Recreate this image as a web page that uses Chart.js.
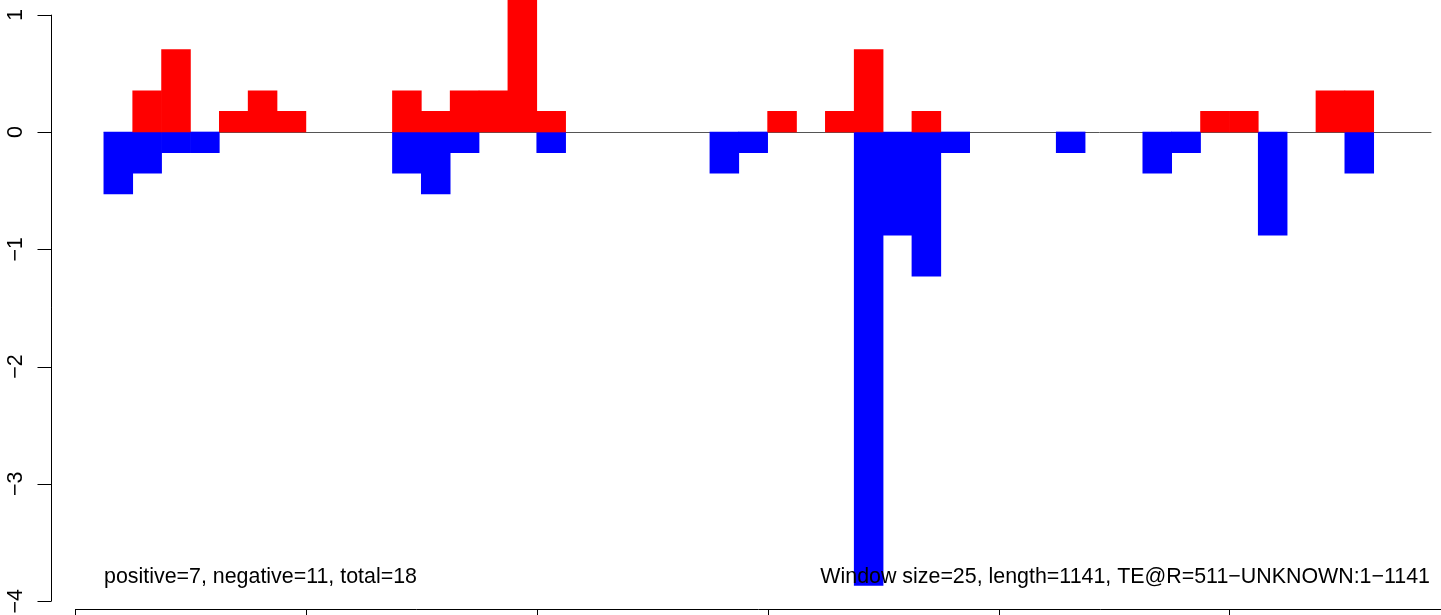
<!doctype html>
<html>
<head>
    <meta charset="utf-8">
    <title>TE windows</title>
    <script src="https://cdn.jsdelivr.net/npm/chart.js@4.4.1/dist/chart.umd.min.js"></script>
    <style>
    body { margin: 0; background: #ffffff; }
    canvas { display: block; }
    </style>
</head>
<body>
    <canvas id="canvasWindows" width="1441" height="615"></canvas>
    <script>
        // window centres (bp), window size 25
        var windowMids = [37.5, 62.5, 87.5, 112.5, 137.5, 162.5, 187.5, 212.5, 237.5, 262.5,
            287.5, 312.5, 337.5, 362.5, 387.5, 412.5, 437.5, 462.5, 487.5, 512.5,
            537.5, 562.5, 587.5, 612.5, 637.5, 662.5, 687.5, 712.5, 737.5, 762.5,
            787.5, 812.5, 837.5, 862.5, 887.5, 912.5, 937.5, 962.5, 987.5, 1012.5,
            1037.5, 1062.5, 1087.5, 1112.5, 1137.5, 1162.5];

        var positiveVals = [0, 0.351, 0.703, 0, 0.176, 0.351, 0.176, 0, 0, 0,
            0.351, 0.176, 0.351, 0.351, 1.23, 0.176, 0, 0, 0, 0,
            0, 0, 0, 0.176, 0, 0.176, 0.703, 0, 0.176, 0,
            0, 0, 0, 0, 0, 0, 0, 0, 0.176, 0.176,
            0, 0, 0.351, 0.351, 0, 0];

        var negativeVals = [-0.527, -0.351, -0.176, -0.176, 0, 0, 0, 0, 0, 0,
            -0.351, -0.527, -0.176, 0, 0, -0.176, 0, 0, 0, 0,
            0, -0.351, -0.176, 0, 0, 0, -3.866, -0.879, -1.23, -0.176,
            0, 0, 0, -0.176, 0, 0, -0.351, -0.176, 0, 0,
            -0.879, 0, 0, -0.351, 0, 0];

        var xTicks = [0, 200, 400, 600, 800, 1000, 1200];
        var yTicks = [1, 0, -1, -2, -3, -4];
        var yTickLabels = ["1", "0", "\u22121", "\u22122", "\u22123", "\u22124"];
        var zeroSpan = [25, 1175];

        var leftNote = "positive=7, negative=11, total=18";
        var rightNote = "Window size=25, length=1141, TE@R=511\u2212UNKNOWN:1\u22121141";

        // empty windows get no bar
        function toPoints(vals) {
            var pts = [];
            for (var i = 0; i < vals.length; i++) {
                pts.push({x: windowMids[i], y: vals[i] === 0 ? null : vals[i]});
            }
            return pts;
        }

        var rAxes = {
            id: 'rAxes',
            beforeDatasetsDraw: function(chart) {
                var ctx = chart.ctx, sx = chart.scales.x, sy = chart.scales.y;
                var y0 = Math.round(sy.getPixelForValue(0)) + 0.5;
                ctx.save();
                ctx.strokeStyle = '#555555';
                ctx.lineWidth = 1;
                ctx.beginPath();
                ctx.moveTo(sx.getPixelForValue(zeroSpan[0]), y0);
                ctx.lineTo(sx.getPixelForValue(zeroSpan[1]), y0);
                ctx.stroke();
                ctx.restore();
            },
            afterDraw: function(chart) {
                var ctx = chart.ctx, sx = chart.scales.x, sy = chart.scales.y;
                var axisX = 51.5, axisY = 609.5;
                ctx.save();
                ctx.strokeStyle = '#000000';
                ctx.fillStyle = '#000000';
                ctx.lineWidth = 1;

                // y axis
                ctx.beginPath();
                ctx.moveTo(axisX, sy.getPixelForValue(yTicks[0]));
                ctx.lineTo(axisX, sy.getPixelForValue(yTicks[yTicks.length - 1]));
                for (var i = 0; i < yTicks.length; i++) {
                    var py = Math.round(sy.getPixelForValue(yTicks[i])) + 0.5;
                    ctx.moveTo(axisX, py);
                    ctx.lineTo(axisX - 14, py);
                }
                ctx.stroke();

                ctx.font = '21.4px "Liberation Sans", Arial, sans-serif';
                ctx.textAlign = 'center';
                ctx.textBaseline = 'alphabetic';
                for (var j = 0; j < yTicks.length; j++) {
                    ctx.save();
                    ctx.translate(22, sy.getPixelForValue(yTicks[j]));
                    ctx.rotate(-Math.PI / 2);
                    ctx.fillText(yTickLabels[j], 0, 0);
                    ctx.restore();
                }

                // x axis (labels fall below the canvas)
                ctx.beginPath();
                ctx.moveTo(sx.getPixelForValue(xTicks[0]), axisY);
                ctx.lineTo(sx.getPixelForValue(xTicks[xTicks.length - 1]), axisY);
                for (var k = 0; k < xTicks.length; k++) {
                    var px = Math.round(sx.getPixelForValue(xTicks[k])) + 0.5;
                    ctx.moveTo(px, axisY);
                    ctx.lineTo(px, axisY + 14);
                }
                ctx.stroke();

                // notes
                ctx.textAlign = 'left';
                ctx.fillText(leftNote, 104, 583);
                ctx.textAlign = 'right';
                ctx.fillText(rightNote, 1430, 583);
                ctx.restore();
            }
        };

        var ctx = document.getElementById("canvasWindows").getContext("2d");
        window.myBar = new Chart(ctx, {
            type: 'bar',
            data: {
                datasets: [
                    {
                        label: "positive",
                        backgroundColor: "#ff0000",
                        borderWidth: 0,
                        grouped: false,
                        barPercentage: 1,
                        categoryPercentage: 1,
                        data: toPoints(positiveVals)
                    },
                    {
                        label: "negative",
                        backgroundColor: "#0000ff",
                        borderWidth: 0,
                        grouped: false,
                        barPercentage: 1,
                        categoryPercentage: 1,
                        data: toPoints(negativeVals)
                    }
                ]
            },
            options: {
                responsive: false,
                animation: false,
                layout: { padding: 0 },
                plugins: {
                    legend: { display: false },
                    tooltip: { enabled: false }
                },
                scales: {
                    x: {
                        type: 'linear',
                        display: false,
                        offset: false,
                        min: -64.97,
                        max: 1183.3,
                        afterBuildTicks: function(scale) {
                            scale.ticks = xTicks.map(function(v) { return {value: v}; });
                        }
                    },
                    y: {
                        display: false,
                        min: -4.1176,
                        max: 1.1253,
                        afterBuildTicks: function(scale) {
                            scale.ticks = yTicks.map(function(v) { return {value: v}; });
                        }
                    }
                }
            },
            plugins: [rAxes]
        });
    </script>
</body>
</html>
